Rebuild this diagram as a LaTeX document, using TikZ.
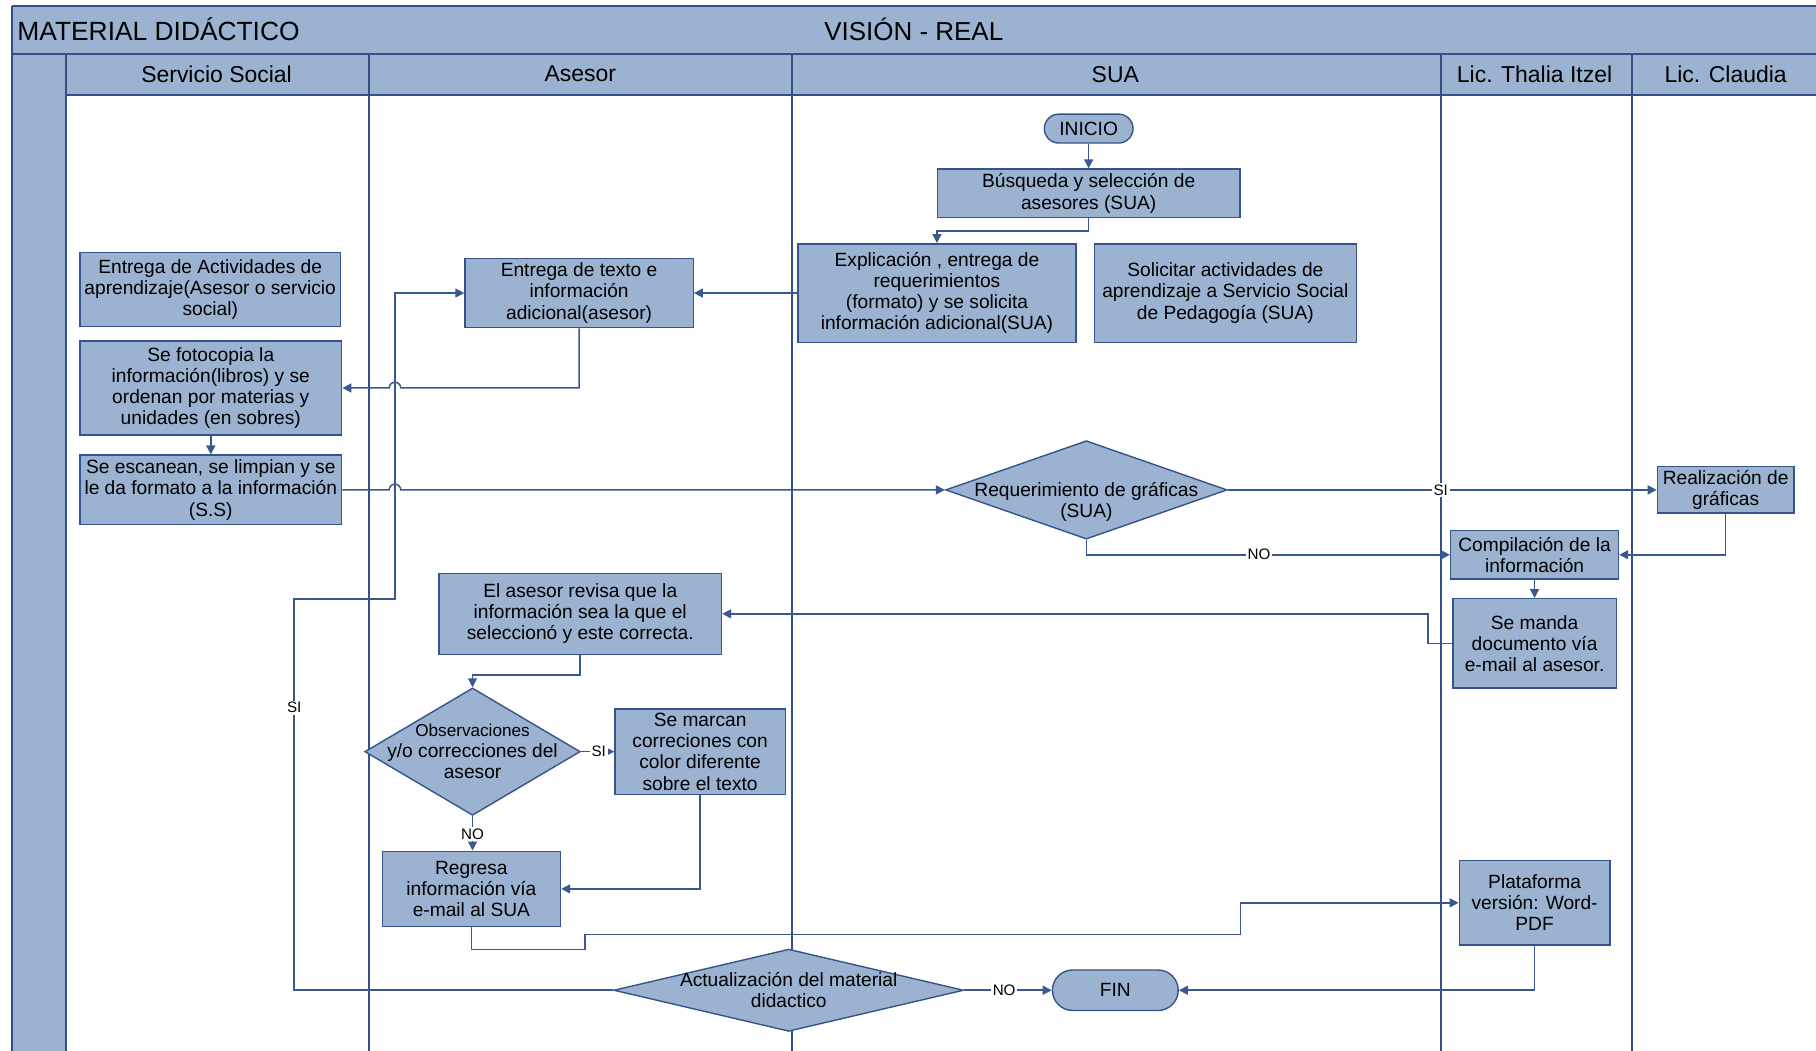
\documentclass[tikz,border=0pt]{standalone}
\usepackage{fontspec}
\setmainfont{Liberation Sans}
\usetikzlibrary{arrows.meta,shapes.geometric,shapes.misc}
\definecolor{fillc}{RGB}{155,179,209}
\definecolor{boxc}{RGB}{52,84,138}
\definecolor{edgec}{RGB}{56,88,142}
\definecolor{lanec}{RGB}{50,80,138}
\begin{document}
\begin{tikzpicture}[x=0.58pt,y=-0.58pt,
  box/.style={draw=boxc, line width=0.7pt, fill=fillc, align=center, inner sep=1pt,
    font=\fontsize{9.6}{10.6}\selectfont},
  term/.style={box, rounded rectangle},
  decision/.style={diamond, draw=boxc, line width=0.7pt, fill=fillc, inner sep=0pt},
  dtext/.style={align=center, inner sep=0pt, font=\fontsize{9.6}{10.6}\selectfont},
  arr/.style={draw=edgec, line width=0.75pt, -{Triangle[length=4.5pt,width=4.5pt]}},
  lbl/.style={fill=white, inner sep=0.8pt, font=\fontsize{7.6}{8}\selectfont},
  lane/.style={draw=lanec, line width=1pt},
  hdr/.style={font=\fontsize{11.5}{12}\selectfont}
]
\useasboundingbox (0,0) rectangle (1568,907);
\clip (0,0) rectangle (1568,907);

% ---- pool: title band, lane header band, left strip ----
\fill[fillc] (10,5) rectangle (1580,47);
\fill[fillc] (57,47) rectangle (1580,82);
\fill[fillc] (10,47) rectangle (57,912);
\draw[lane] (10,5) -- (1580,5);
\draw[lane] (10,47) -- (1580,47);
\draw[lane] (57,82) -- (1580,82);
\draw[lane] (10,5) -- (10,912);
\foreach \lx in {57,319,684,1244,1409}
  \draw[lane] (\lx,47) -- (\lx,912);

\node[anchor=west, font=\fontsize{13.2}{14}\selectfont] (ttl) at (9,25) {MATERIAL DIDÁCTICO};
\node[font=\fontsize{13}{14}\selectfont] (vis) at (789,25) {VISIÓN - REAL};
\node[hdr] (h1) at (187,64) {Servicio Social};
\node[hdr] (h2) at (501,64) {Asesor};
\node[hdr] (h3) at (963,64) {SUA};
\node[hdr] (h4) at (1325,64) {Lic. Thalia Itzel};
\node[hdr] (h5) at (1490,64) {Lic. Claudia};

% ---- process steps ----
\node[term, minimum width=46.4pt, minimum height=14.5pt] (ini) at (940,111) {INICIO};
\node[box, minimum width=151.4pt, minimum height=24.4pt] (bus) at (940,167)
  {Búsqueda y selección de\\asesores (SUA)};
\node[box, minimum width=139.2pt, minimum height=49.3pt] (expl) at (809,253)
  {Explicación , entrega de\\requerimientos\\(formato) y se solicita\\información adicional(SUA)};
\node[box, minimum width=131.1pt, minimum height=49.3pt] (sol) at (1058,253)
  {Solicitar actividades de\\aprendizaje a Servicio Social\\de Pedagogía (SUA)};
\node[box, minimum width=114.3pt, minimum height=34.8pt] (ent2) at (500,253)
  {Entrega de texto e\\información\\adicional(asesor)};
\node[box, minimum width=130.5pt, minimum height=37.1pt] (ent1) at (181.5,250)
  {Entrega de Actividades de\\aprendizaje(Asesor o servicio\\social)};
\node[box, minimum width=131.1pt, minimum height=47pt] (foto) at (182,335)
  {Se fotocopia la\\información(libros) y se\\ordenan por materias y\\unidades (en sobres)};
\node[box, minimum width=131.1pt, minimum height=34.8pt] (esc) at (182,423)
  {Se escanean, se limpian y se\\le da formato a la información\\(S.S)};
\node[decision, minimum width=141pt, minimum height=49.3pt,
  label={[dtext, yshift=-6pt]center:{Requerimiento de gráficas\\(SUA)}}] (req) at (938,423) {};
\node[box, minimum width=68.4pt, minimum height=23.2pt] (real) at (1490,423)
  {Realización de\\gráficas};
\node[box, minimum width=84.1pt, minimum height=24.4pt] (comp) at (1325,479)
  {Compilación de la\\información};
\node[box, minimum width=81.8pt, minimum height=44.7pt] (manda) at (1325,555.5)
  {Se manda\\documento vía\\e-mail al asesor.};
\node[box, minimum width=141.5pt, minimum height=40.6pt] (rev) at (501,530)
  {El asesor revisa que la\\información sea la que el\\seleccionó y este correcta.};
\node[decision, minimum width=107.9pt, minimum height=63.8pt,
  label={[dtext]center:{{\fontsize{8.6}{10.6}\selectfont Observaciones}\\y/o correcciones del\\asesor}}] (obs) at (408,649) {};
\node[box, minimum width=85.3pt, minimum height=42.9pt] (marc) at (604.5,649)
  {Se marcan\\correciones con\\color diferente\\sobre el texto};
\node[box, minimum width=89.3pt, minimum height=37.7pt] (reg) at (407,767.5)
  {Regresa\\información vía\\e-mail al SUA};
\node[box, minimum width=75.4pt, minimum height=42.3pt] (plat) at (1325,779.5)
  {Plataforma\\versión: Word-\\PDF};
\node[decision, minimum width=175.2pt, minimum height=41.2pt,
  label={[dtext]center:{Actualización del material\\didactico}}] (act) at (681,855) {};
\node[term, minimum width=65pt, minimum height=20.3pt] (fin) at (963,855) {FIN};

% ---- connectors ----
\draw[arr] (ini.south) -- (bus.north);
\draw[arr] (bus.south) -- ++(0,11) -| (expl.north);
\draw[arr] (expl.west) -- (ent2.east);
\draw[arr] (ent2.south) |- (346,335) arc[start angle=0, end angle=180, radius=2.9pt] -- (foto.east);
\draw[arr] (foto.south) -- (esc.north);
\draw[arr] (esc.east) -- (336,423) arc[start angle=180, end angle=0, radius=2.9pt] -- (req.west);
\draw[arr] (req.east) -- (real.west);
\draw[arr] (req.south) |- (comp.west);
\draw[arr] (real.south) |- (comp.east);
\draw[arr] (comp.south) -- (manda.north);
\draw[arr] (manda.west) -| (1233,530) -- (rev.east);
\draw[arr] (rev.south) -- ++(0,17) -| (obs.north);
\draw[arr] (obs.east) -- (marc.west);
\draw[arr] (obs.south) -- (obs.south |- reg.north);
\draw[arr] (marc.south) |- (reg.east);
\draw[arr] (reg.south) |- (505,820) -- (505,807) -| (1071,779.5) -- (plat.west);
\draw[arr] (plat.south) |- (fin.east);
\draw[arr] (act.east) -- (fin.west);
\draw[arr] (act.west) -| (254,517) -| (341,253) -- (ent2.west);

% ---- branch labels ----
\node[lbl] (siA) at (1244,423) {SI};
\node[lbl] (noA) at (1087,479) {NO};
\node[lbl] (siB) at (517,649) {SI};
\node[lbl] (noB) at (408,720) {NO};
\node[lbl] (noC) at (867,855) {NO};
\node[lbl] (siC) at (254,611) {SI};
\end{tikzpicture}
\end{document}
